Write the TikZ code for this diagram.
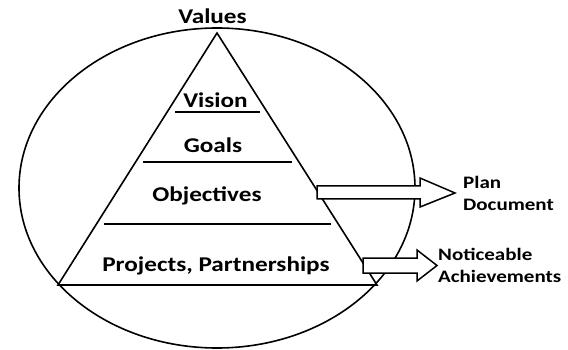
\documentclass[tikz,border=0pt]{standalone}
\usepackage{fontspec}
\setmainfont{Carlito}[FakeStretch=1.2]
\begin{document}
\begin{tikzpicture}[x=1pt,y=-1pt,
    level/.style={font=\fontsize{21}{24}\selectfont\bfseries, inner sep=0pt, anchor=base},
    side/.style={font=\fontsize{17.5}{22}\selectfont\bfseries, align=left, inner sep=0pt, anchor=west},
    outline/.style={line width=1.6pt},
    blockarrow/.style={draw, fill=white, line width=1.5pt, line join=miter}]
  \useasboundingbox (0,0) rectangle (568,350);
  % ellipse round the pyramid
  \draw[outline] (217,188) ellipse (198 and 160);
  % pyramid
  \coordinate (apex) at (217,33);
  \coordinate (bl) at (58,285);
  \coordinate (br) at (377,285);
  \draw[outline, line join=miter] (apex) -- (bl) -- (br) -- cycle;
  \foreach \y/\l/\r in {112/175/260, 162/143/292, 224/104/331}
    \draw[outline] (\l,\y) -- (\r,\y);
  % levels
  \node[level] (values) at (212.5,24) {Values};
  \node[level] (vision) at (215.5,108) {Vision};
  \node[level] (goals) at (213,153) {Goals};
  \node[level] (objectives) at (207,202) {Objectives};
  \node[level] (projects) at (216,271) {Projects, Partnerships};
  % block arrows
  \draw[blockarrow] (317,186) -- (420,186) -- (420,178) -- (455,193)
    -- (420,207) -- (420,199) -- (317,199) -- cycle;
  \draw[blockarrow] (363,258) -- (417,258) -- (417,250) -- (437,265.5)
    -- (417,281) -- (417,273) -- (363,273) -- cycle;
  \node[side] (plan) at (463,193.5) {Plan\\Document};
  \node[side] (achievements) at (438,265.5) {Noticeable\\Achievements};
\end{tikzpicture}
\end{document}
